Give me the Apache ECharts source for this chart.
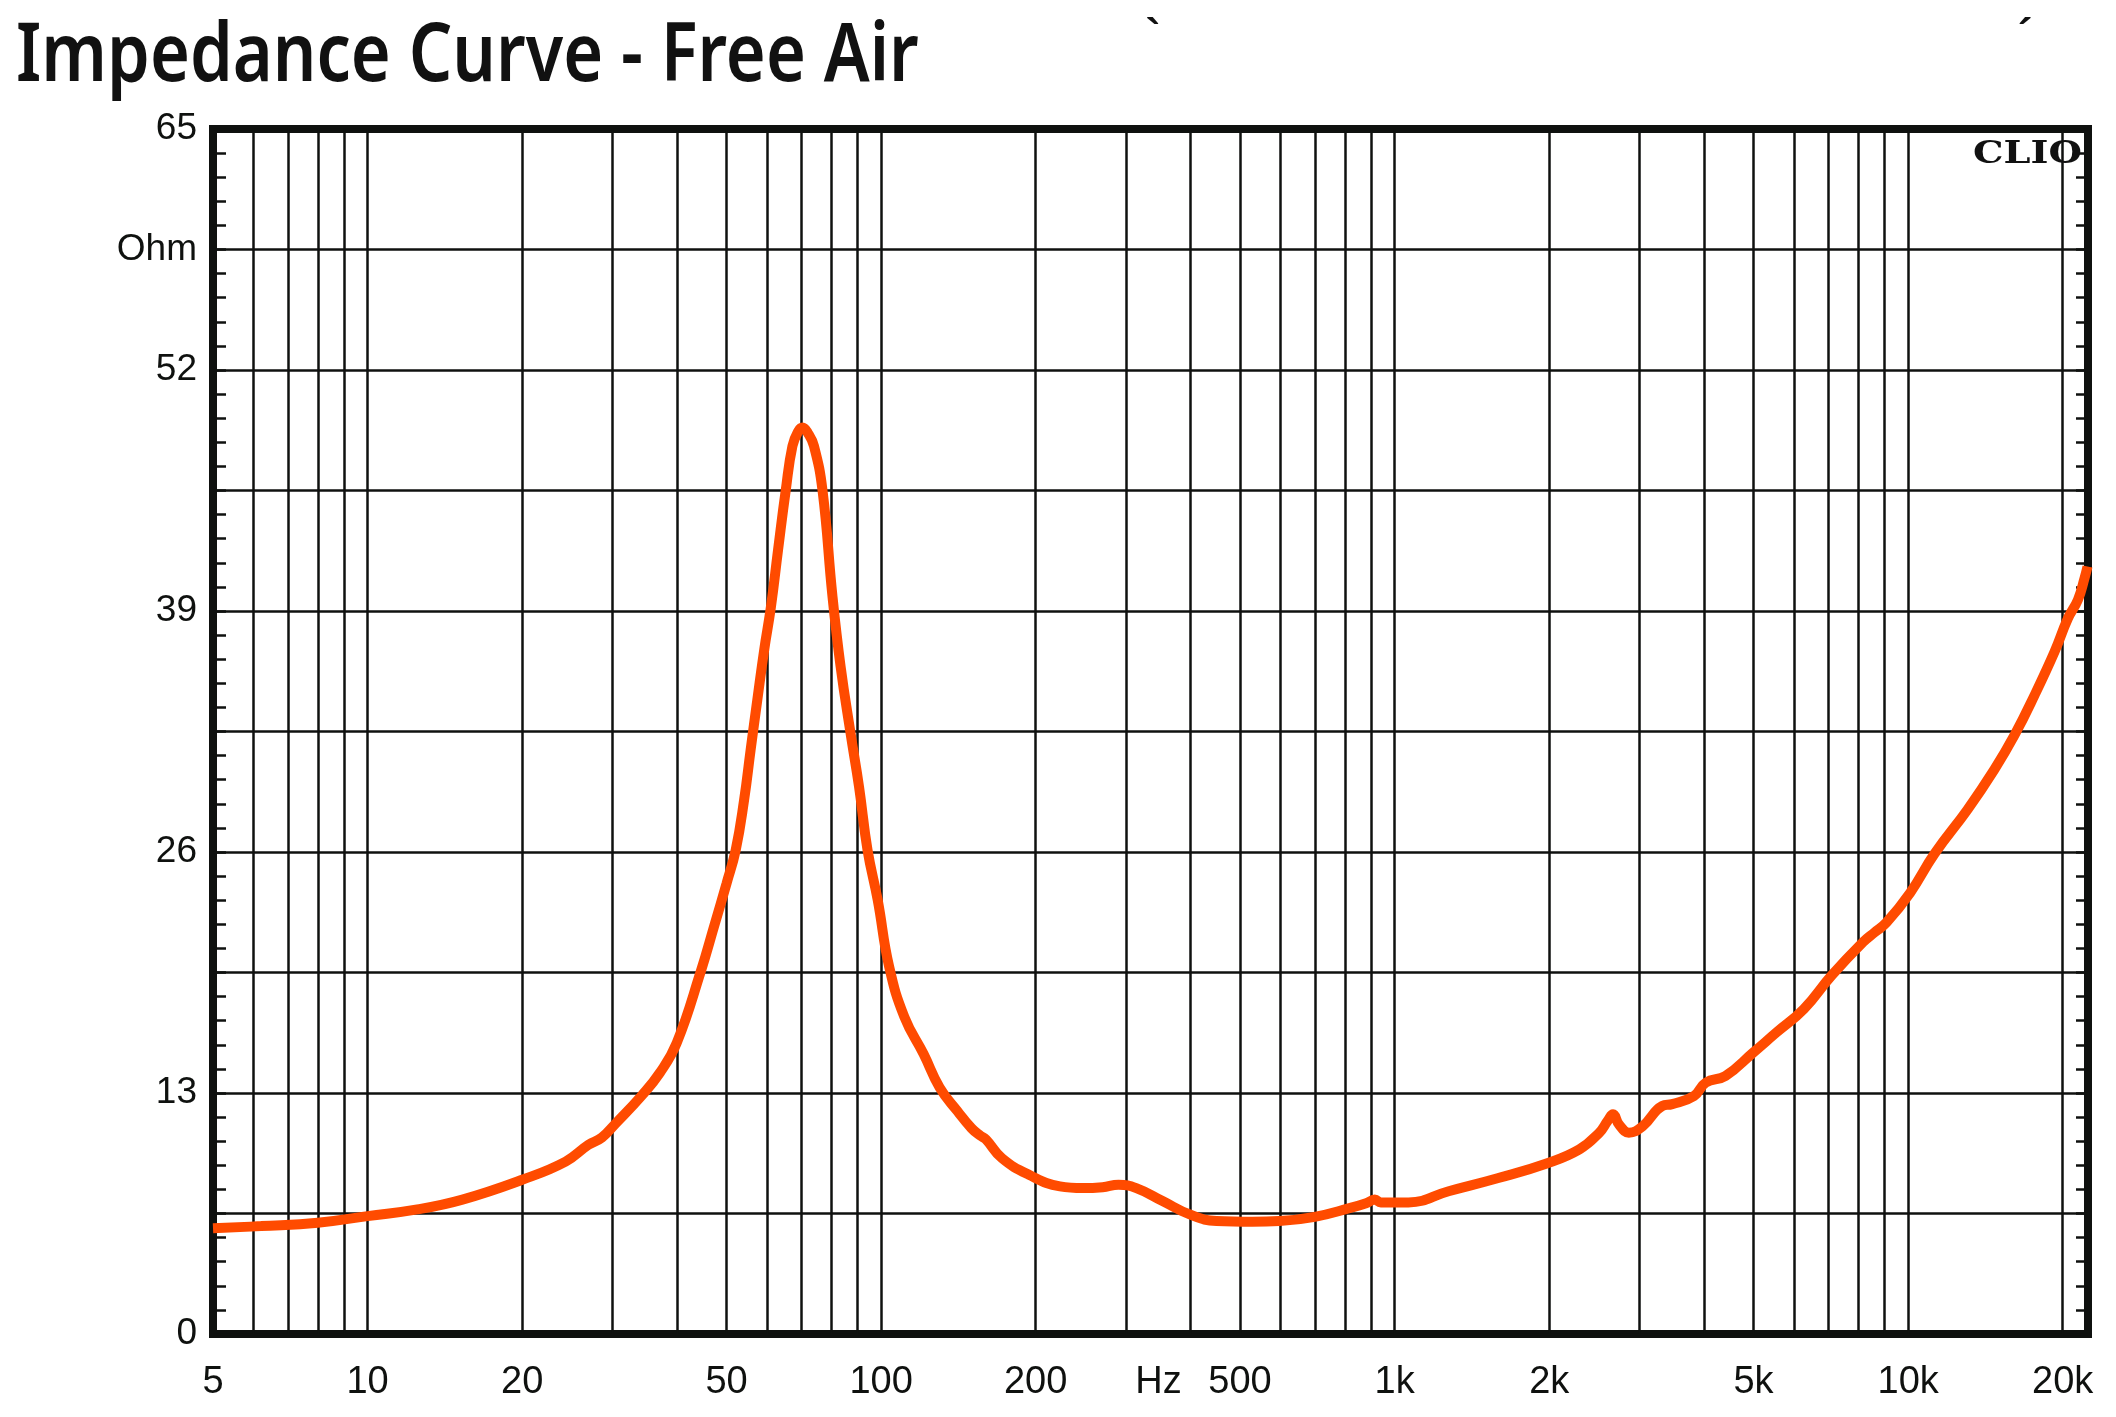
<!DOCTYPE html>
<html>
<head>
<meta charset="utf-8">
<title>Impedance Curve - Free Air</title>
<script src="https://cdn.jsdelivr.net/npm/echarts@6/dist/echarts.min.js"></script>
<style>
html, body { margin: 0; padding: 0; background: #fff; }
#chart { width: 2116px; height: 1417px; }
</style>
</head>
<body>
<div id="chart"></div>
<script>
// impedance readings (Hz / Ohm)
var freqs = [5, 6.2, 8, 10, 12.5, 15.3, 20, 24.3, 26.9, 28.6,
  30.4, 34.2, 37.1, 40, 44.6, 47.3, 50, 52.1, 54.1, 55.7,
  57.4, 59.2, 61, 63, 65.2, 67.2, 69, 70.3, 72, 74,
  76.9, 80.4, 83.4, 87.2, 90.6, 94.1, 98.5, 103.7, 111, 121,
  130, 141, 150, 156, 160, 172, 194, 223, 247, 270,
  290, 314, 354, 399, 450, 528, 596, 699, 820, 880,
  915, 940, 1064, 1274, 1586, 1977, 2290, 2504, 2600, 2663,
  2735, 2858, 3039, 3320, 3470, 3828, 4036, 4408, 4991, 5538,
  6266, 7090, 8163, 8610, 9078, 10090, 11250, 13060, 14720, 16110,
  17620, 19280, 20470, 21410, 22070, 22350];
var ohms = [5.7, 5.82, 6.0, 6.36, 6.72, 7.25, 8.32, 9.3, 10.2, 10.6,
  11.35, 12.87, 14.1, 15.7, 19.6, 22.0, 24.3, 26.1, 28.8, 31.5,
  34.2, 36.9, 39.2, 42.3, 45.5, 47.9, 48.7, 48.9, 48.6, 47.9,
  45.5, 39.8, 36.0, 32.4, 29.5, 26.1, 23.4, 19.8, 17.1, 15.1,
  13.3, 12.0, 11.1, 10.7, 10.5, 9.48, 8.59, 7.96, 7.87, 7.92,
  8.05, 7.87, 7.16, 6.45, 6.09, 6.05, 6.09, 6.32, 6.8, 7.05,
  7.25, 7.1, 7.1, 7.7, 8.4, 9.2, 9.96, 10.86, 11.5, 11.85,
  11.3, 10.86, 11.2, 12.3, 12.4, 12.84, 13.56, 13.92, 15.18, 16.26,
  17.53, 19.33, 21.13, 21.67, 22.2, 23.8, 25.9, 28.3, 30.45, 32.3,
  34.45, 36.8, 38.6, 39.6, 40.8, 41.4];

// frequency axis: grid at 1..9 per decade, labels only at some
var gridFreqs = [6, 7, 8, 9, 10, 20, 30, 40, 50, 60, 70, 80, 90, 100,
  200, 300, 400, 500, 600, 700, 800, 900, 1000, 2000, 3000, 4000, 5000,
  6000, 7000, 8000, 9000, 10000, 20000];
var xLabelFreqs = [5, 10, 20, 50, 100, 200, 347, 500, 1000, 2000, 5000, 10000, 20000];
var xLabelTexts = ['5', '10', '20', '50', '100', '200', 'Hz', '500', '1k', '2k', '5k', '10k', '20k'];
var xMin = 5, xMax = 22400;

// ohm axis
var yLabelValues = [0, 13, 26, 39, 52, 58.5, 65];
var yLabelTexts = ['0', '13', '26', '39', '52', 'Ohm', '65'];

var ink = '#0f110f';
var lg = function(v) { return Math.log10(v); };

function pick(vals, texts, v) {
  for (var i = 0; i < vals.length; i++) {
    if (Math.abs(vals[i] - v) < 1e-6) return texts[i];
  }
  return '';
}

var myChart = echarts.init(document.getElementById('chart'));
myChart.setOption({
  animation: false,
  backgroundColor: '#fff',
  grid: {
    left: 213, top: 129, right: 28, bottom: 83,
    show: true,
    borderColor: ink,
    borderWidth: 8,
    outerBoundsMode: 'none'
  },
  xAxis: {
    type: 'value',
    min: lg(xMin),
    max: lg(xMax),
    axisLine: { show: false },
    axisTick: { show: false, customValues: gridFreqs.map(lg) },
    splitLine: { show: true, lineStyle: { color: ink, width: 2.5 } },
    axisLabel: {
      customValues: xLabelFreqs.map(lg),
      margin: 30,
      color: ink,
      fontFamily: 'Liberation Sans',
      fontSize: 38,
      formatter: function(v) { return pick(xLabelFreqs.map(lg), xLabelTexts, v); }
    }
  },
  yAxis: [{
    type: 'value',
    min: 0,
    max: 65,
    interval: 6.5,
    axisLine: { show: false },
    axisTick: { show: true, inside: true, length: 13, lineStyle: { color: ink, width: 2.5 } },
    minorTick: { show: true, splitNumber: 5, length: 13, lineStyle: { color: ink, width: 2.5 } },
    splitLine: { show: true, lineStyle: { color: ink, width: 2.5 } },
    axisLabel: {
      customValues: yLabelValues,
      margin: 16,
      color: ink,
      fontFamily: 'Liberation Sans',
      fontSize: 37,
      formatter: function(v) { return pick(yLabelValues, yLabelTexts, v); }
    }
  }, {
    type: 'value',
    position: 'right',
    min: 0,
    max: 65,
    interval: 6.5,
    axisLine: { show: false },
    axisTick: { show: true, inside: true, length: 12, lineStyle: { color: ink, width: 2.5 } },
    minorTick: { show: true, splitNumber: 5, length: 12, lineStyle: { color: ink, width: 2.5 } },
    splitLine: { show: false },
    axisLabel: { show: false }
  }],
  graphic: [{
    type: 'text',
    x: 16, y: 58, scaleX: 0.845,
    style: {
      text: 'Impedance Curve - Free Air',
      font: '600 81px "Noto Sans"',
      fill: '#111',
      verticalAlign: 'middle'
    }
  }, {
    type: 'text',
    x: 2082, y: 155, scaleX: 1.2, z: 100,
    style: {
      text: 'CLIO',
      font: 'bold 32px "DejaVu Serif"',
      fill: '#111',
      align: 'right',
      verticalAlign: 'middle'
    }
  }, {
    type: 'text',
    x: 1153, y: 38,
    style: { text: '`', font: 'bold 44px "Liberation Sans"', fill: '#111', align: 'center', verticalAlign: 'middle' }
  }, {
    type: 'text',
    x: 2025, y: 38,
    style: { text: '\u00b4', font: 'bold 44px "Liberation Sans"', fill: '#111', align: 'center', verticalAlign: 'middle' }
  }],
  series: [{
    name: 'Impedance',
    type: 'line',
    data: freqs.map(function(f, i) { return [lg(f), ohms[i]]; }),
    symbol: 'none',
    smooth: 0.45,
    z: 5,
    lineStyle: { color: '#ff4b00', width: 10 }
  }]
});
</script>
</body>
</html>
